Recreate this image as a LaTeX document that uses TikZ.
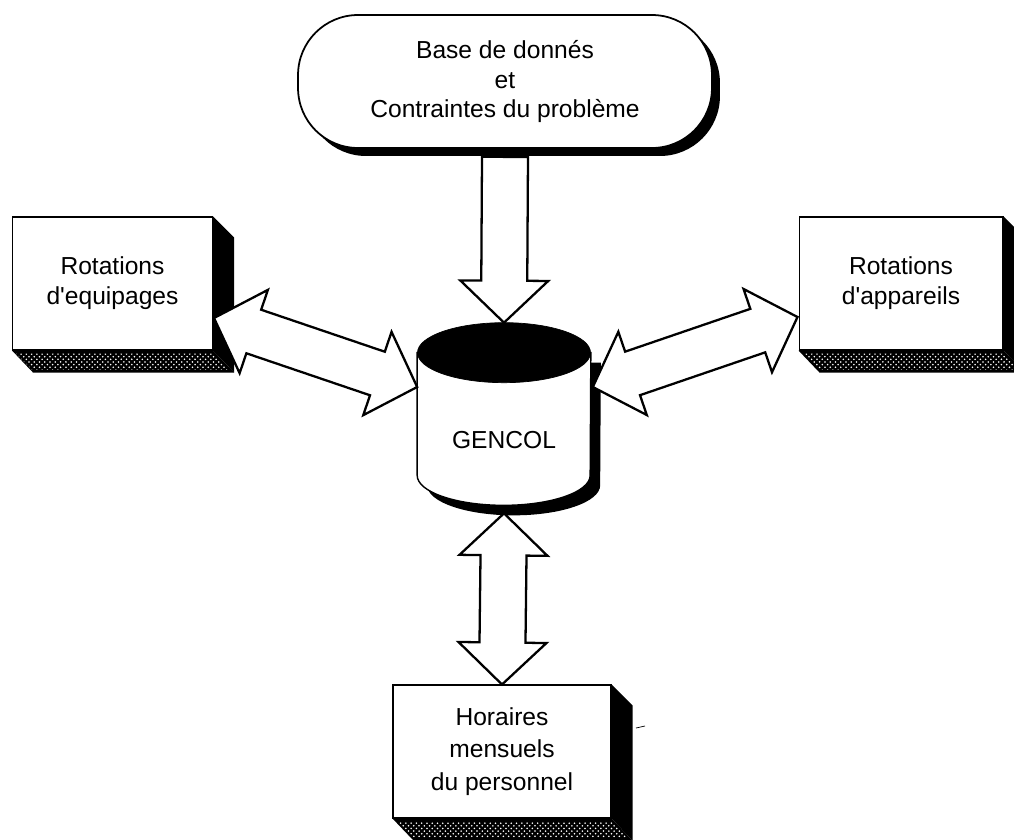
\documentclass[tikz,border=0pt]{standalone}
\usepackage{fontspec}
\setmainfont{Liberation Sans}
\usetikzlibrary{calc,shadows,patterns}

% sizes of the fat arrows
\def\hlen{0.84cm}
\def\hwid{0.88cm}
\def\swid{0.46cm}

\newcommand{\dblarrow}[2]{%
  \filldraw[fatarrow] (#1)
    -- ($(#1)!\hlen!(#2)!\hwid!90:(#2)$)
    -- ($(#1)!\hlen!(#2)!\swid!90:(#2)$)
    -- ($(#2)!\hlen!(#1)!\swid!-90:(#1)$)
    -- ($(#2)!\hlen!(#1)!\hwid!-90:(#1)$)
    -- (#2)
    -- ($(#2)!\hlen!(#1)!\hwid!90:(#1)$)
    -- ($(#2)!\hlen!(#1)!\swid!90:(#1)$)
    -- ($(#1)!\hlen!(#2)!\swid!-90:(#2)$)
    -- ($(#1)!\hlen!(#2)!\hwid!-90:(#2)$)
    -- cycle;}

\newcommand{\sglarrow}[2]{%
  \filldraw[fatarrow] ($(#1)!\swid!90:(#2)$)
    -- ($(#2)!\hlen!(#1)!\swid!-90:(#1)$)
    -- ($(#2)!\hlen!(#1)!\hwid!-90:(#1)$)
    -- (#2)
    -- ($(#2)!\hlen!(#1)!\hwid!90:(#1)$)
    -- ($(#2)!\hlen!(#1)!\swid!90:(#1)$)
    -- ($(#1)!\swid!-90:(#2)$)
    -- cycle;}

% right and bottom faces of a box
\newcommand{\boxfaces}[1]{%
  \fill[black] (#1.north east) -- ++(21,21) -- ($(#1.south east)+(21,22)$) -- (#1.south east) -- cycle;
  \fill[black] (#1.south west) -- (#1.south east) -- ++(21,22) -- ($(#1.south west)+(21,22)$) -- cycle;
  \fill[pattern=crosshatch dots, pattern color=white] ($(#1.south west)+(4,3)$) -- ($(#1.south east)+(0,3)$) -- ++(16,16) -- ($(#1.south west)+(20,19)$) -- cycle;}

\begin{document}
\begin{tikzpicture}[x=0.02cm, y=-0.02cm,
    every node/.style={font=\fontsize{14}{17}\selectfont},
    box/.style={draw, line width=0.6pt, fill=white, align=center, inner sep=0pt, minimum height=2.66cm},
    fatarrow/.style={draw, line width=1.3pt, fill=white, line join=miter}]
    \useasboundingbox (0,0) rectangle (1014,839);

    % data source on top
    \node[draw, line width=1pt, fill=white, rounded corners=1.2cm, minimum width=8.28cm, minimum height=2.66cm, align=center,
          drop shadow={shadow xshift=0.16cm, shadow yshift=-0.16cm, fill=black, opacity=1}] (donnees) at (505,81.5)
          {Base de donnés\\et\\Contraintes du problème};

    % the three boxes
    \node[box, minimum width=4cm] (equip) at (112.5,283.5) {Rotations\\d\textquotesingle equipages};
    \node[box, minimum width=4.08cm] (appar) at (901,283.5) {Rotations\\d\textquotesingle appareils};
    \node[box, minimum width=4.36cm, font=\fontsize{14}{18.5}\selectfont] (horaires) at (502,751.5) {Horaires\\mensuels\\du personnel};
    \boxfaces{equip}
    \boxfaces{appar}
    \boxfaces{horaires}
    \draw (636,728) -- (645,726);

    % GENCOL cylinder
    \node[minimum width=3.46cm, minimum height=3.64cm, inner sep=0pt] (gencol) at (504,414) {};
    \fill[black] ($(gencol.north west)+(10,40)$) -- ($(gencol.south west)+(10,-20)$)
        arc[start angle=180, end angle=0, x radius=86.5, y radius=30] -- ($(gencol.north east)+(10,40)$) -- cycle;
    \filldraw[fill=white, line width=0.8pt] ($(gencol.north west)+(0,30)$) -- ($(gencol.south west)+(0,-30)$)
        arc[start angle=180, end angle=0, x radius=86.5, y radius=30] -- ($(gencol.north east)+(0,30)$) -- cycle;
    \filldraw[fill=black] ($(gencol.north)+(0,30)$) ellipse[x radius=86.5, y radius=30];
    \node (gencoltxt) at (504,440) {GENCOL};

    % connectors
    \coordinate (dontail) at ($(donnees.south)+(0,8)$);
    \coordinate (eqtip) at ($(equip.east)+(1,34.5)$);
    \coordinate (gcleft) at ($(gencol.west)+(0,-27)$);
    \coordinate (gcright) at ($(gencol.east)+(2,-27)$);
    \coordinate (aptip) at ($(appar.west)+(-1,33.5)$);
    \coordinate (gcbottom) at ($(gencol.south)+(0,8)$);
    \sglarrow{dontail}{gencol.north}
    \dblarrow{eqtip}{gcleft}
    \dblarrow{gcright}{aptip}
    \dblarrow{gcbottom}{horaires.north}
\end{tikzpicture}
\end{document}
